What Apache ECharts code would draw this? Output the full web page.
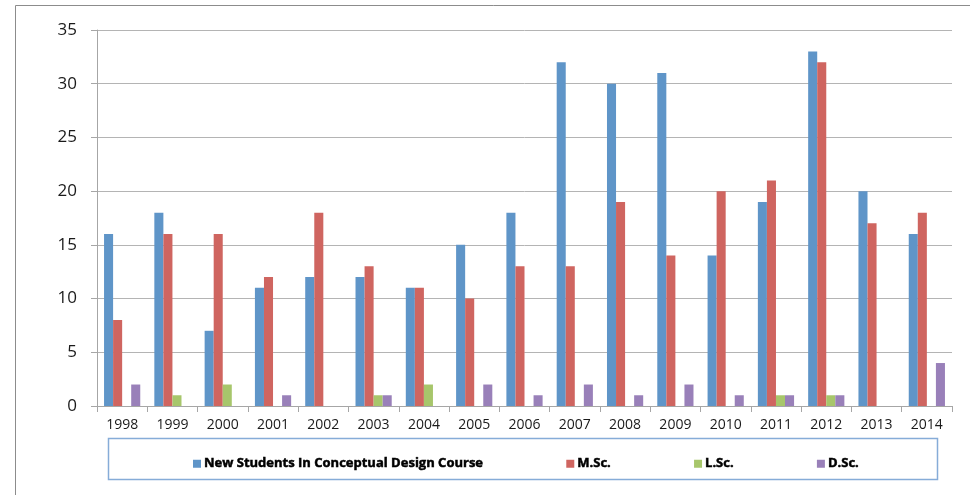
<!DOCTYPE html>
<html>
<head>
<meta charset="utf-8">
<script src="https://cdn.jsdelivr.net/npm/echarts@6/dist/echarts.min.js"></script>
<style>
  html, body { margin: 0; padding: 0; background: #fff; }
  #chart { width: 970px; height: 495px; }
</style>
</head>
<body>
<div id="chart"></div>
<script>
// years on the x axis
const years = ['1998', '1999', '2000', '2001', '2002', '2003', '2004', '2005', '2006',
  '2007', '2008', '2009', '2010', '2011', '2012', '2013', '2014'];
// number of students per year
const newStudents = [16, 18, 7, 11, 12, 12, 11, 15, 18, 32, 30, 31, 14, 19, 33, 20, 16];
const msc = [8, 16, 16, 12, 18, 13, 11, 10, 13, 13, 19, 14, 20, 21, 32, 17, 18];
const lsc = [0, 1, 2, 0, 0, 1, 2, 0, 0, 0, 0, 0, 0, 1, 1, 0, 0];
const dsc = [2, 0, 0, 1, 0, 1, 0, 2, 1, 2, 1, 2, 1, 1, 1, 0, 4];
const seriesNames = ['New Students In Conceptual Design Course', 'M.Sc.', 'L.Sc.', 'D.Sc.'];
const colors = ['#5f95c8', '#cf6560', '#a7c66b', '#9980b9'];

const chart = echarts.init(document.getElementById('chart'));
const font = 'Open Sans, Liberation Sans, sans-serif';

const option = {
  animation: false,
  color: colors,
  textStyle: { fontFamily: font },
  graphic: [
    // outer frame
    {
      type: 'rect',
      shape: { x: 15.5, y: 5.5, width: 1000, height: 600 },
      style: { fill: 'none', stroke: '#8c8c8c', lineWidth: 1 }
    },
    // legend frame
    {
      type: 'rect',
      shape: { x: 108.5, y: 438.5, width: 829, height: 41 },
      style: { fill: 'none', stroke: '#86acd8', lineWidth: 1.5 }
    }
  ],
  legend: {
    data: seriesNames,
    left: 188,
    top: 452,
    itemWidth: 8,
    itemHeight: 8,
    itemGap: 83,
    icon: 'rect',
    textStyle: {
      fontFamily: font,
      fontSize: 13,
      fontWeight: 'bold',
      color: '#000',
      textBorderColor: '#000',
      textBorderWidth: 0.5,
      padding: [0, 0, 0, -2]
    }
  },
  grid: {
    left: 97,
    right: 18,
    top: 30,
    bottom: 89
  },
  xAxis: {
    type: 'category',
    data: years,
    axisLine: { lineStyle: { color: '#a6a6a6' } },
    axisTick: { show: true, length: 6, lineStyle: { color: '#a6a6a6' } },
    axisLabel: { color: '#1a1a1a', fontSize: 14, margin: 12, fontFamily: font }
  },
  yAxis: {
    type: 'value',
    min: 0,
    max: 35,
    interval: 5,
    axisLine: { show: true, lineStyle: { color: '#a6a6a6' } },
    axisTick: { show: true, length: 6, lineStyle: { color: '#a6a6a6' } },
    axisLabel: { color: '#1a1a1a', fontSize: 17, margin: 20, fontFamily: font },
    splitLine: { lineStyle: { color: '#b4b4b4' } }
  },
  series: [
    { name: seriesNames[0], type: 'bar', data: newStudents, barGap: '0%', barCategoryGap: '28%' },
    { name: seriesNames[1], type: 'bar', data: msc },
    { name: seriesNames[2], type: 'bar', data: lsc },
    { name: seriesNames[3], type: 'bar', data: dsc }
  ]
};

chart.setOption(option);
</script>
</body>
</html>
